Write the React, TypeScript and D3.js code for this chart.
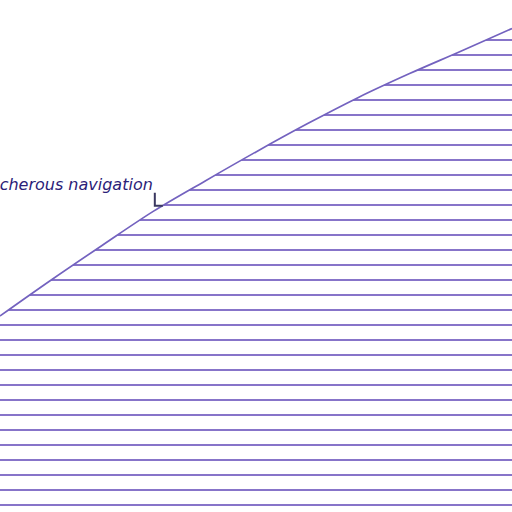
import React, { useEffect, useRef } from 'react';
import * as d3 from 'd3';

// river depth profile (arbitrary units, 1 unit = one hatch band)
const steps = [0, 1, 2, 3, 4, 5, 6, 7, 8, 9, 10];
const depth = [12.6, 15.0, 17.32, 19.59, 21.59, 23.54, 25.41, 27.17, 28.76, 30.25, 31.77];
const hatchLevels = d3.range(-1, 32);

const annotation = { step: 3.18, label: 'treacherous navigation' };

export default function App() {
  const svgRef = useRef<SVGSVGElement>(null);

  useEffect(() => {
    if (!svgRef.current) return;
    const width = 512;
    const height = 512;

    const svg = d3.select(svgRef.current);
    svg.selectAll('*').remove();
    svg.attr('width', width).attr('height', height);

    const x = d3.scaleLinear().domain([0, 10]).range([0, width]);
    const y = d3.scaleLinear().domain([0, 32]).range([505, 25]);

    const data = steps.map((s, i) => ({ s, v: depth[i] }));

    const area = d3.area<{ s: number; v: number }>()
      .x(d => x(d.s))
      .y0(height + 20)
      .y1(d => y(d.v))
      .curve(d3.curveMonotoneX);

    const line = d3.line<{ s: number; v: number }>()
      .x(d => x(d.s))
      .y(d => y(d.v))
      .curve(d3.curveMonotoneX);

    svg.append('clipPath')
      .attr('id', 'under-curve')
      .append('path')
      .attr('d', area(data));

    // hatch lines under the curve
    svg.append('g')
      .attr('clip-path', 'url(#under-curve)')
      .selectAll('line')
      .data(hatchLevels)
      .join('line')
      .attr('x1', -10)
      .attr('x2', width + 10)
      .attr('y1', d => y(d))
      .attr('y2', d => y(d))
      .attr('stroke', '#8774c9')
      .attr('stroke-width', 1.8);

    svg.append('path')
      .attr('d', line(data))
      .attr('fill', 'none')
      .attr('stroke', '#7362bf')
      .attr('stroke-width', 1.7);

    // annotation with elbow connector
    const i0 = Math.floor(annotation.step);
    const t = annotation.step - i0;
    const sx = x(annotation.step);
    const sy = y(depth[i0] + (depth[i0 + 1] - depth[i0]) * t);

    svg.append('path')
      .attr('d', `M${sx - 8},${sy - 13}V${sy}H${sx}`)
      .attr('fill', 'none')
      .attr('stroke', '#3a3860')
      .attr('stroke-width', 2);

    svg.append('text')
      .attr('x', sx - 10)
      .attr('y', sy - 16)
      .attr('text-anchor', 'end')
      .attr('font-family', '"DejaVu Sans", sans-serif')
      .attr('font-style', 'italic')
      .attr('font-size', 16)
      .attr('fill', '#2b2178')
      .text(annotation.label);
  }, []);

  return (
    <svg ref={svgRef} style={{ position: 'absolute', left: 0, top: 0, background: '#fff' }}></svg>
  );
}
